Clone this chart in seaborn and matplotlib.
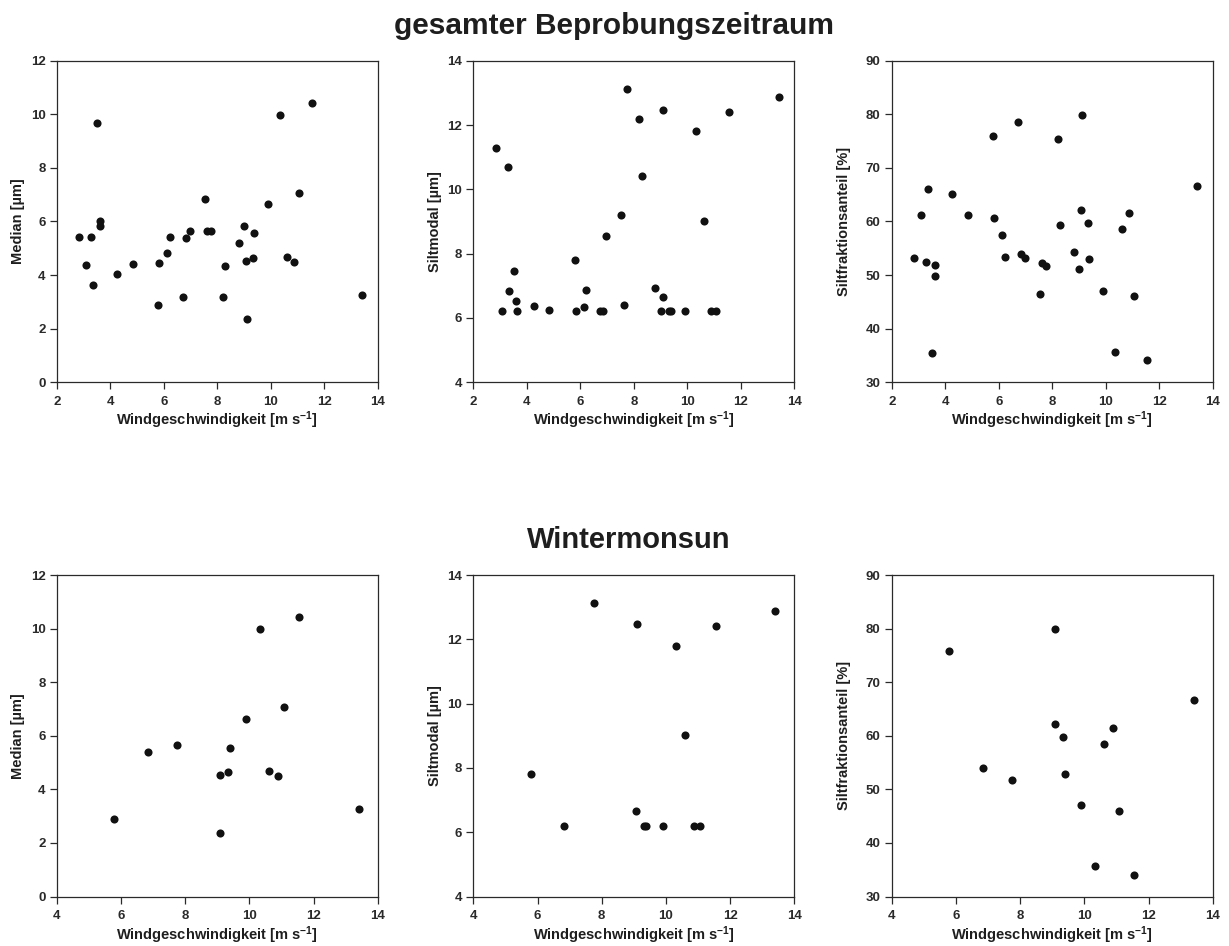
import matplotlib
matplotlib.use("Agg")
import matplotlib.pyplot as plt
import seaborn as sns
import pandas as pd

# Wind speed per sample [m s-1]
wind = [2.84, 3.08, 3.30, 3.34, 3.51, 3.60, 3.62, 4.27, 4.84, 5.80, 5.83, 6.13,
        6.23, 6.74, 6.83, 6.97, 7.54, 7.63, 7.76, 8.20, 8.30, 8.80, 9.00, 9.08,
        9.10, 9.33, 9.39, 9.90, 10.33, 10.61, 10.88, 11.07, 11.56, 13.41]

# Median grain size [µm]
median = [5.42, 4.36, 5.42, 3.64, 9.66, 6.03, 5.83, 4.02, 4.41, 2.88, 4.46, 4.83,
          5.42, 3.18, 5.38, 5.64, 6.83, 5.64, 5.64, 3.18, 4.35, 5.20, 5.82, 4.52,
          2.37, 4.65, 5.56, 6.64, 9.99, 4.67, 4.49, 7.07, 10.42, 3.26]

# Silt modal value [µm]
siltmodal = [11.27, 6.20, 10.69, 6.83, 7.47, 6.52, 6.20, 6.36, 6.24, 7.80, 6.20, 6.33,
             6.87, 6.20, 6.20, 8.55, 9.20, 6.40, 13.13, 12.19, 10.41, 6.92, 6.20, 6.65,
             12.47, 6.20, 6.20, 6.20, 11.80, 9.01, 6.20, 6.20, 12.40, 12.88]

# Silt fraction [%]
silt_pct = [53.1, 61.2, 52.4, 66.1, 35.5, 49.8, 51.9, 65.2, 61.2, 75.9, 60.7, 57.5,
            53.4, 78.5, 54.0, 53.2, 46.4, 52.3, 51.7, 75.4, 59.3, 54.3, 51.1, 62.1,
            79.9, 59.8, 52.9, 47.1, 35.7, 58.5, 61.5, 46.0, 34.1, 66.6]

# Samples taken during the winter monsoon
wintermonsun = [False, False, False, False, False, False, False, False, False, True,
                False, False, False, False, True,
                False, False, False, True,
                False, False, False, False,
                True, True, True, True, True, True, True, True, True, True, True]

row_titles = ["gesamter Beprobungszeitraum", "Wintermonsun"]
y_labels = ["Median [µm]", "Siltmodal [µm]", "Siltfraktionsanteil [%]"]
x_label = r"Windgeschwindigkeit [m s$^{-1}$]"

df = pd.DataFrame({"wind": wind, "median": median, "siltmodal": siltmodal,
                   "silt_pct": silt_pct, "winter": wintermonsun})

sns.set_theme(style="ticks")
plt.rcParams.update({
    "font.family": ["Liberation Sans", "DejaVu Sans"],
    "font.weight": "bold",
    "axes.labelweight": "bold",
    "mathtext.fontset": "custom",
    "mathtext.rm": "Liberation Sans:bold",
    "mathtext.bf": "Liberation Sans:bold",
    "mathtext.it": "Liberation Sans:italic:bold",
    "mathtext.default": "rm",
    "text.color": "#1e1e1e",
    "axes.labelcolor": "#1e1e1e",
    "xtick.color": "#2a2a2a",
    "ytick.color": "#2a2a2a",
    "axes.edgecolor": "#2a2a2a",
})

W, H = 1229, 946
fig = plt.figure(figsize=(W / 100, H / 100), dpi=100)

col_left = [56.7, 473.3, 891.7]
row_top = [60.7, 575.0]
ax_w, ax_h = 321.0, 321.5
ylabel_x = [18.0, 435.0, 844.0]

variables = ["median", "siltmodal", "silt_pct"]
y_ranges = [(0, 12, 2), (4, 14, 2), (30, 90, 10)]
x_ranges = [(2, 14), (4, 14)]

for r in range(2):
    data = df if r == 0 else df[df["winter"]]
    for c in range(3):
        left = col_left[c]
        top = row_top[r]
        ax = fig.add_axes([left / W, 1 - (top + ax_h) / H, ax_w / W, ax_h / H])
        sns.scatterplot(data=data, x="wind", y=variables[c], ax=ax,
                        color="#111111", s=34, linewidth=0, legend=False)
        x0, x1 = x_ranges[r]
        ax.set_xlim(x0, x1)
        ax.set_xticks(range(x0, x1 + 1, 2))
        y0, y1, ys = y_ranges[c]
        ax.set_ylim(y0, y1)
        ax.set_yticks(range(y0, y1 + 1, ys))
        for sp in ax.spines.values():
            sp.set_linewidth(0.9)
            sp.set_color("#2a2a2a")
        ax.tick_params(axis="both", direction="out", length=5, width=0.9,
                       labelsize=9.5, top=False, right=False)
        ax.tick_params(axis="x", pad=5)
        ax.tick_params(axis="y", pad=3)
        for lab in ax.get_xticklabels() + ax.get_yticklabels():
            lab.set_fontweight("bold")
        ax.set_xlabel(x_label, fontsize=10.5, fontweight="bold", va="center")
        ax.xaxis.set_label_coords(0.5, -38.3 / ax_h)
        ax.set_ylabel(y_labels[c], fontsize=10.5, fontweight="bold", va="center")
        ax.yaxis.set_label_coords((ylabel_x[c] - left) / ax_w, 0.5)

fig.text(614 / W, 1 - 26 / H, row_titles[0], ha="center", va="center",
         fontsize=21.5, fontweight="bold", color="#1e1e1e")
fig.text(628.5 / W, 1 - 540 / H, row_titles[1], ha="center", va="center",
         fontsize=21, fontweight="bold", color="#1e1e1e")

fig.savefig("out.png", dpi=100)
